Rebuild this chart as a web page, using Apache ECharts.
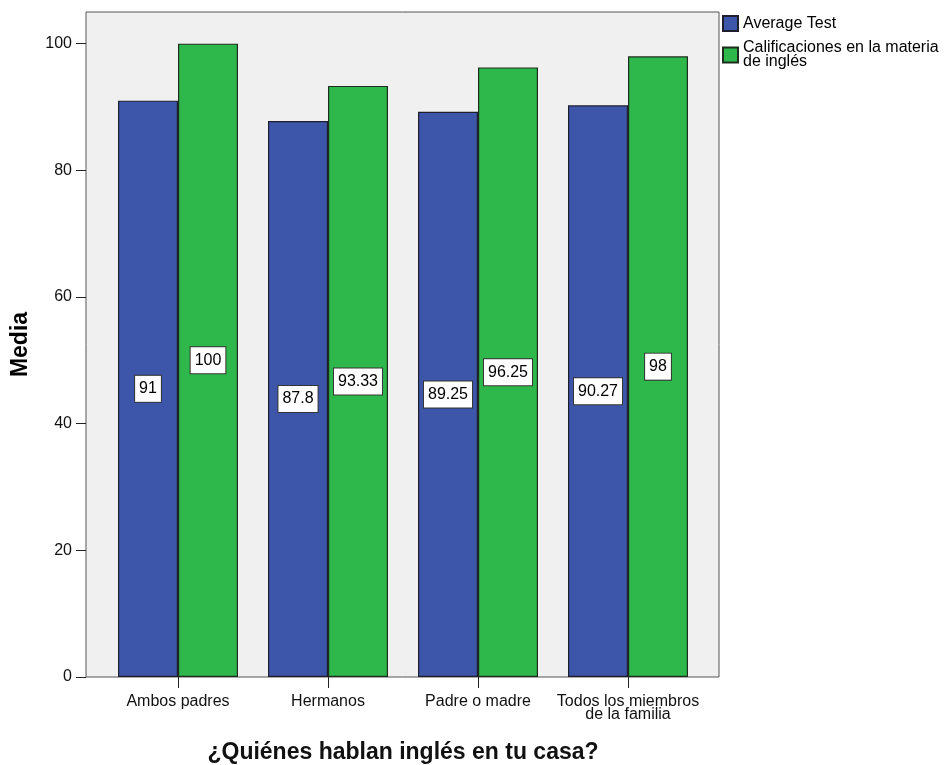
<!DOCTYPE html>
<html>
<head>
<meta charset="utf-8">
<script src="https://cdn.jsdelivr.net/npm/echarts@6/dist/echarts.min.js"></script>
<style>
html,body{margin:0;padding:0;background:#fff;}
#chart{width:945px;height:765px;}
</style>
</head>
<body>
<div id="chart"></div>
<script>
const categories = ['Ambos padres', 'Hermanos', 'Padre o madre', 'Todos los miembros\nde la familia'];
const seriesNames = ['Average Test', 'Calificaciones en la materia de inglés'];
const averageTest = [91, 87.8, 89.25, 90.27];
const calificaciones = [100, 93.33, 96.25, 98];
const yTicks = [0, 20, 40, 60, 80, 100];

const FONT = '"Liberation Sans", Arial, sans-serif';
const chart = echarts.init(document.getElementById('chart'));

const labelStyle = {
  show: true,
  position: 'inside',
  color: '#000',
  fontFamily: FONT,
  fontSize: 16,
  lineHeight: 17,
  backgroundColor: '#fff',
  borderColor: '#333',
  borderWidth: 1,
  padding: [5, 4, 4, 4],
  formatter: p => String(p.value)
};

chart.setOption({
  animation: false,
  textStyle: { fontFamily: FONT },
  legend: {
    orient: 'vertical',
    left: 717,
    top: 10,
    itemWidth: 15,
    itemHeight: 15,
    itemGap: 8,
    icon: 'rect',
    textStyle: { fontSize: 16, lineHeight: 14, color: '#000', fontFamily: FONT },
    formatter: n => n === seriesNames[1] ? 'Calificaciones en la materia\nde inglés' : n,
    data: seriesNames
  },
  grid: [
    { left: 86, top: 12, width: 633, height: 665, outerBoundsMode: 'none', containLabel: false, show: true, backgroundColor: '#f0f0f0', borderColor: '#555', borderWidth: 1 },
    { left: 103, top: 12, width: 600, height: 665, outerBoundsMode: 'none', containLabel: false }
  ],
  xAxis: [
    { gridIndex: 0, type: 'value', show: false },
    {
      gridIndex: 1,
      type: 'category',
      data: categories,
      axisLine: { show: false },
      axisTick: { show: true, alignWithLabel: true, length: 11, lineStyle: { color: '#222' } },
      axisLabel: { interval: 0, fontSize: 16, lineHeight: 13, color: '#111', margin: 18, fontFamily: FONT },
      name: '¿Quiénes hablan inglés en tu casa?',
      nameLocation: 'middle',
      nameGap: 64,
      nameTextStyle: { fontSize: 23, fontWeight: 'bold', color: '#111', fontFamily: FONT }
    }
  ],
  yAxis: [
    { gridIndex: 0, type: 'value', show: false },
    {
      gridIndex: 1,
      type: 'value',
      min: 0,
      max: 105,
      offset: 17,
      axisLine: { show: false },
      splitLine: { show: false },
      axisTick: { show: true, length: 10, customValues: yTicks, lineStyle: { color: '#222' } },
      axisLabel: { fontSize: 16, color: '#111', margin: 14, customValues: yTicks, fontFamily: FONT },
      name: 'Media',
      nameLocation: 'middle',
      nameRotate: 90,
      nameGap: 54,
      nameTextStyle: { fontSize: 23, fontWeight: 'bold', color: '#000', fontFamily: FONT }
    }
  ],
  series: [
    {
      name: seriesNames[0], type: 'bar', xAxisIndex: 1, yAxisIndex: 1,
      data: averageTest, barWidth: 60, barGap: '0%',
      itemStyle: { color: '#3e56a9', borderColor: '#1e1e2e', borderWidth: 1.2 },
      label: labelStyle
    },
    {
      name: seriesNames[1], type: 'bar', xAxisIndex: 1, yAxisIndex: 1,
      data: calificaciones, barWidth: 60, barGap: '0%',
      itemStyle: { color: '#2eb74b', borderColor: '#1e2e1e', borderWidth: 1.2 },
      label: labelStyle
    }
  ]
});
</script>
</body>
</html>
